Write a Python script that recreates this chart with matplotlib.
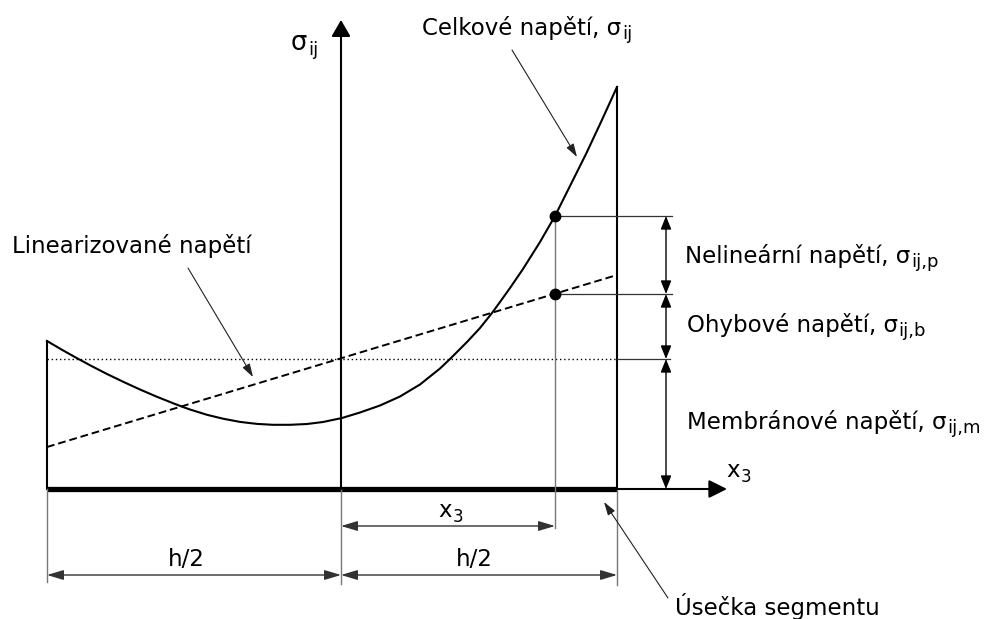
import matplotlib
matplotlib.use("Agg")
import matplotlib.pyplot as plt

plt.rcParams['font.family'] = ['DejaVu Sans']

# ---- data (diagram units: origin at axis crossing, y up) ----
half_left = -294          # left end of segment (-h/2)
half_right = 276          # right end of segment (+h/2)
curve_x = [-294, -279, -264, -249, -234, -218, -201, -184, -168, -158, -151,
           -134, -118, -101, -84, -68, -51, -34, -18, 1, 19, 39, 59, 79, 99,
           109, 126, 139, 151, 159, 169, 182, 199, 214, 229, 245, 260, 276]
curve_y = [148, 139.2, 130.8, 122.7, 115, 107.3, 99.5, 92.2, 85.8, 82, 79.5,
           74.2, 70.3, 67.1, 65.1, 64.2, 64.2, 65, 67, 71, 76.5, 83.5, 92.5, 104.5, 120.5,
           130, 147, 161, 176, 187, 201, 220, 247, 273, 303, 335, 367, 402]
linear_x = [-294, 276]
linear_y = [42, 214]
membrane = 130
x3_pos = 214
total_at_x3 = 273
linear_at_x3 = 195
dim_x = 325

FS = 16.5
SUBFS = 13
W, H = 1001, 619
fig = plt.figure(figsize=(W / 100, H / 100), dpi=100)
ax = fig.add_axes([0, 0, 1, 1])
ax.set_xlim(-341, W - 341)
ax.set_ylim(489 - H, 489)
ax.axis('off')


def arrow(p0, p1, style, lw=1.0, color='black', hl=1.0, hw=0.3):
    ax.annotate('', xy=p1, xytext=p0,
                arrowprops=dict(arrowstyle=f"{style},head_length={hl},head_width={hw}",
                                shrinkA=0, shrinkB=0, lw=lw, color=color,
                                mutation_scale=10))


def label(x, y, main, sub=None, fs=FS, subfs=SUBFS, ha='left', drop=2.2):
    t = ax.text(x, y, main, fontsize=fs, ha=ha, va='baseline')
    if sub:
        ax.annotate(sub, xy=(1, 0), xycoords=t, xytext=(0.5, -drop),
                    textcoords='offset points', fontsize=subfs,
                    ha='left', va='bottom')
    return t


# thick segment
ax.plot([half_left, half_right], [0, 0], color='black', lw=3.8, solid_capstyle='butt')
# axes
arrow((0, 0), (0, 469), '-|>', lw=1.5, hl=1.0, hw=0.58)
arrow((half_right, 0), (386, 0), '-|>', lw=1.5, hl=1.1, hw=0.55)

# edges of stress profile
ax.plot([half_left, half_left], [0, curve_y[0]], color='black', lw=1.5)
ax.plot([half_right, half_right], [0, curve_y[-1]], color='black', lw=1.5)

# total stress curve
ax.plot(curve_x, curve_y, color='black', lw=1.5, solid_joinstyle='round')
# linearized stress
ax.plot(linear_x, linear_y, color='black', lw=1.4, dashes=(4, 2))
# membrane stress
ax.plot([half_left, half_right], [membrane, membrane], color='black', lw=1.0,
        linestyle=(0, (1, 2)))

# construction lines
grey = '#777777'
ax.plot([x3_pos, x3_pos], [total_at_x3, -39], color=grey, lw=1.0)
ax.plot([x3_pos, 331], [total_at_x3, total_at_x3], color='#333333', lw=0.9)
ax.plot([x3_pos, 331], [linear_at_x3, linear_at_x3], color='#333333', lw=0.9)
ax.plot([half_right, 329], [membrane, membrane], color='#333333', lw=0.9)
for xe, yb in [(half_left, -93), (0, -95), (half_right, -96)]:
    ax.plot([xe, xe], [0, yb], color=grey, lw=1.0)

ax.plot([x3_pos], [total_at_x3], 'o', color='black', ms=7.5)
ax.plot([x3_pos], [linear_at_x3], 'o', color='black', ms=7.5)

# vertical dimension arrows
for a, b in [(0, membrane), (membrane, linear_at_x3), (linear_at_x3, total_at_x3)]:
    arrow((dim_x, a), (dim_x, b), '<|-|>', lw=1.0, hl=0.8, hw=0.32)

# horizontal dimensions
arrow((0, -37), (x3_pos, -37), '<|-|>', lw=1.0, color='#333333', hl=1.0, hw=0.3)
arrow((half_left, -86), (0, -86), '<|-|>', lw=1.0, color='#333333', hl=1.0, hw=0.3)
arrow((0, -86), (half_right, -86), '<|-|>', lw=1.0, color='#333333', hl=1.0, hw=0.3)

# labels
label(-50, 439, 'σ', 'ij', fs=FS + 2, subfs=SUBFS, drop=2.5)
label(81, 454, 'Celkové napětí, σ', 'ij')
label(-329, 236, 'Linearizované napětí')
label(344, 226, 'Nelineární napětí, σ', 'ij,p')
label(346, 157, 'Ohybové napětí, σ', 'ij,b')
label(346, 60, 'Membránové napětí, σ', 'ij,m')
label(385, 12, 'x', '3', subfs=12, drop=3.0)
label(97, -28, 'x', '3', subfs=12, drop=3.0)
label(-155, -77, 'h/2', ha='center')
label(133, -77, 'h/2', ha='center')
label(334, -126, 'Úsečka segmentu')

# leader arrows
arrow((171, 439), (236, 332), '-|>', lw=0.8, color='#222222', hl=0.8, hw=0.25)
arrow((-153, 221), (-88, 112), '-|>', lw=0.8, color='#222222', hl=0.8, hw=0.25)
arrow((327, -109), (263, -13), '-|>', lw=0.8, color='#222222', hl=0.8, hw=0.25)

fig.savefig('out.png', dpi=100)
